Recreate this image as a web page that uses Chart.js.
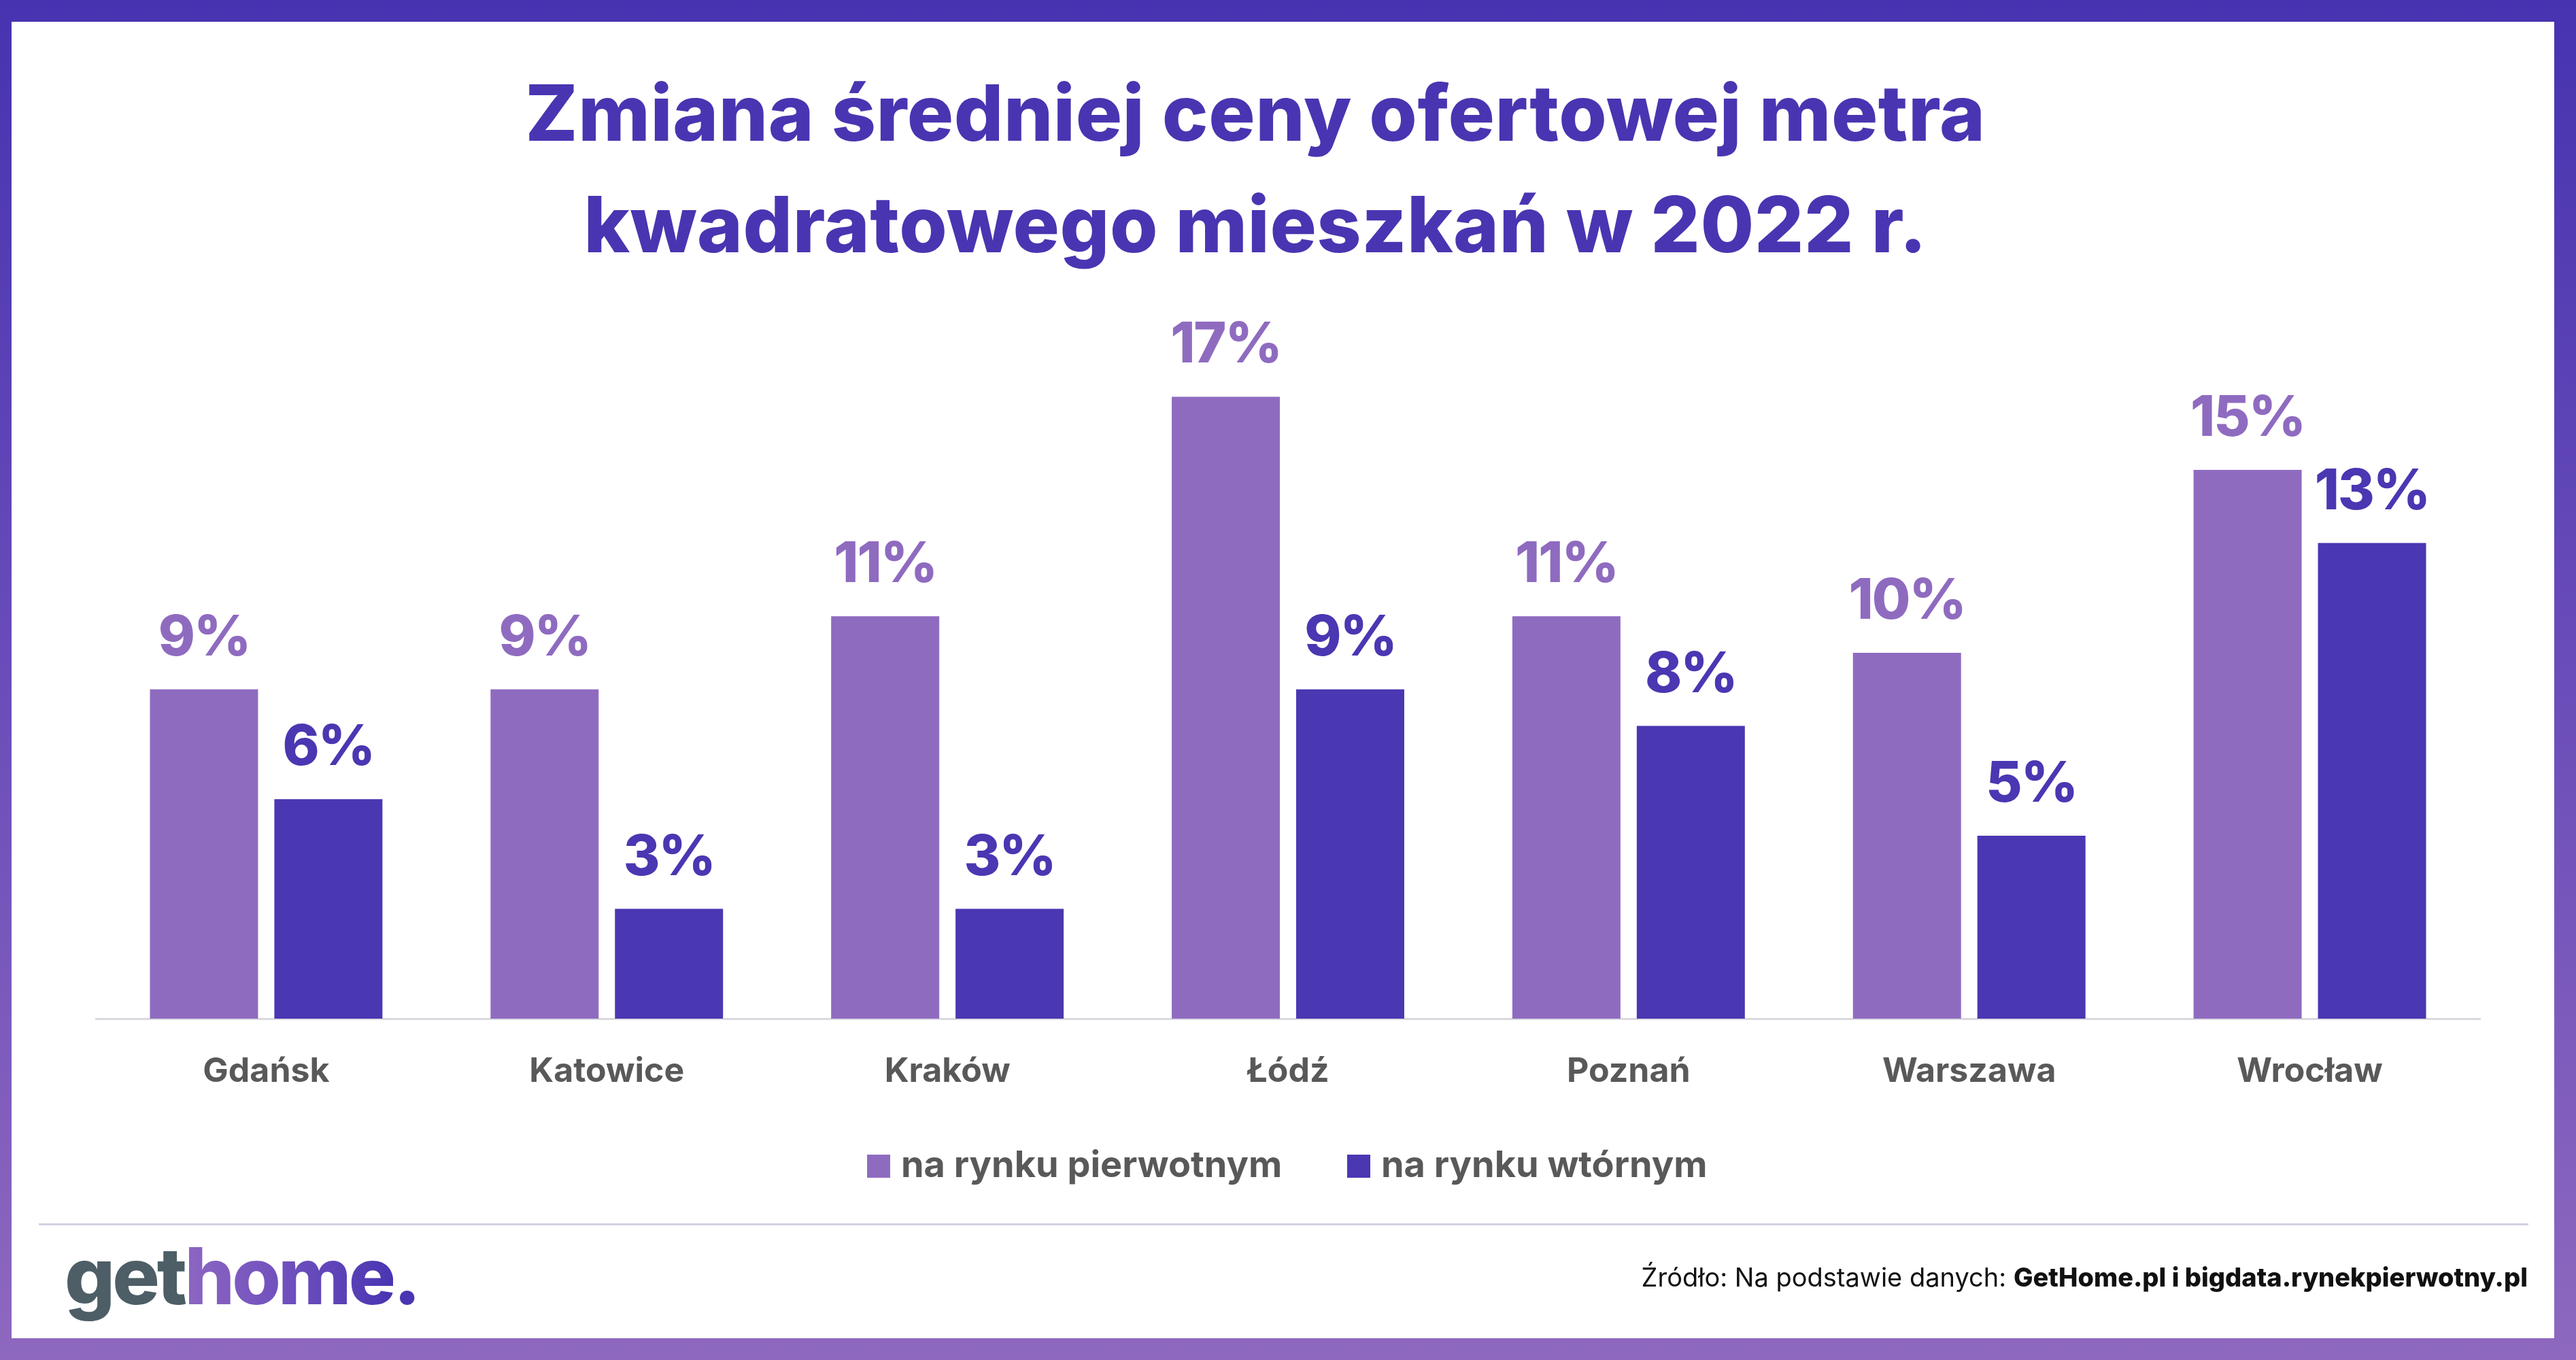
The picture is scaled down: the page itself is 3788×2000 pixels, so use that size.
<!DOCTYPE html>
<html lang="pl">
<head>
<meta charset="utf-8">
<script src="https://cdn.jsdelivr.net/npm/chart.js@4.4.1/dist/chart.umd.min.js"></script>
<style>
  html, body { margin: 0; padding: 0; }
  body { width: 3788px; height: 2000px; position: relative; overflow: hidden;
         background: linear-gradient(180deg, #4733B0 0%, #6A4DB9 50%, #8E68BF 100%);
         font-family: Inter, "Noto Sans", sans-serif; }
  #inner { position: absolute; left: 17px; top: 32px; right: 32px; bottom: 32px; background: #fff; }
  #title { position: absolute; left: 0; top: 84px; width: 3692px; text-align: center;
           font-size: 114px; line-height: 164px; font-weight: 800; color: #4935B1; letter-spacing: 0.5px; }
  #chartWrap { position: absolute; left: 0; top: 0; width: 3788px; height: 2000px; }
  .leg { position: absolute; top: 1679px; height: 65px; display: flex; align-items: baseline;
         font-size: 54px; line-height: 65px; font-weight: 700; color: #595959; white-space: nowrap; }
  .sw { position: absolute; width: 34px; height: 34px; top: 1698px; }
  #sep { position: absolute; left: 57px; top: 1799px; width: 3661px; height: 3px; background: #D2D1E1; }
  #logo { position: absolute; left: 95px; top: 1806px; font-size: 116px; line-height: 140px; font-weight: 800;
          letter-spacing: -4px; white-space: nowrap; }
  #logo .get { color: #4D5E66; }
  #logo .home { background: linear-gradient(90deg, #8D66C2 0%, #6E4FBD 50%, #4A35B2 100%);
                -webkit-background-clip: text; background-clip: text; color: transparent; }
  #logo .dot { color: #4A35B2; }
  #src { position: absolute; right: 71px; top: 1855px; font-size: 38px; line-height: 46px; color: #111;
         white-space: nowrap; }
  #src b { font-weight: 800; }
</style>
</head>
<body>
<div id="inner"></div>
<div id="title">Zmiana średniej ceny ofertowej metra<br>kwadratowego mieszkań w 2022 r.</div>
<div id="chartWrap"><canvas id="c" width="3788" height="2000"></canvas></div>
<div class="sw" style="left:1275px;background:#8F6BC0"></div>
<div class="leg" style="left:1325px">na rynku pierwotnym</div>
<div class="sw" style="left:1981px;background:#4A37B2"></div>
<div class="leg" style="left:2031px">na rynku wtórnym</div>
<div id="sep"></div>
<div id="logo"><span class="get">get</span><span class="home">home</span><span class="dot">.</span></div>
<div id="src">Źródło: Na podstawie danych: <b>GetHome.pl i bigdata.rynekpierwotny.pl</b></div>
<script>
const categories = ["Gdańsk", "Katowice", "Kraków", "Łódź", "Poznań", "Warszawa", "Wrocław"];
const seriesNames = ["na rynku pierwotnym", "na rynku wtórnym"];
const primaryMarket = [9, 9, 11, 17, 11, 10, 15];
const secondaryMarket = [6, 3, 3, 9, 8, 5, 13];
const colors = ["#8F6BC0", "#4A37B2"];

const valueLabels = {
  id: 'valueLabels',
  afterDatasetsDraw(chart) {
    const ctx = chart.ctx;
    ctx.save();
    ctx.font = '800 82px Inter, "Noto Sans", sans-serif';
    if ('letterSpacing' in ctx) ctx.letterSpacing = '-2px';
    ctx.textAlign = 'center';
    ctx.textBaseline = 'alphabetic';
    chart.data.datasets.forEach((ds, i) => {
      const meta = chart.getDatasetMeta(i);
      ctx.fillStyle = colors[i];
      meta.data.forEach((bar, j) => {
        ctx.fillText(ds.data[j] + '%', bar.x, bar.y - 50);
      });
    });
    ctx.restore();
  }
};

function draw() {
  new Chart(document.getElementById('c'), {
    type: 'bar',
    data: {
      labels: categories,
      datasets: [
        { label: seriesNames[0], data: primaryMarket, backgroundColor: colors[0],
          categoryPercentage: 0.7305, barPercentage: 0.869 },
        { label: seriesNames[1], data: secondaryMarket, backgroundColor: colors[1],
          categoryPercentage: 0.7305, barPercentage: 0.869 }
      ]
    },
    options: {
      responsive: false,
      animation: false,
      devicePixelRatio: 1,
      layout: { padding: { left: 141, right: 141, top: 422, bottom: 382 } },
      plugins: { legend: { display: false }, tooltip: { enabled: false }, title: { display: false } },
      scales: {
        y: { display: false, min: 0, max: 20 },
        x: {
          grid: { display: false, drawTicks: false },
          border: { display: true, color: '#D9D9DF', width: 3 },
          ticks: { color: '#595959', padding: 48,
                   font: { family: 'Inter, "Noto Sans", sans-serif', size: 50, weight: '700' } },
          afterFit(scale) { scale.height = 120; }
        }
      }
    },
    plugins: [valueLabels]
  });
}
if (document.fonts && document.fonts.load) {
  Promise.all([
    document.fonts.load('800 82px Inter'),
    document.fonts.load('700 50px Inter')
  ]).then(draw, draw);
} else { draw(); }
</script>
</body>
</html>
